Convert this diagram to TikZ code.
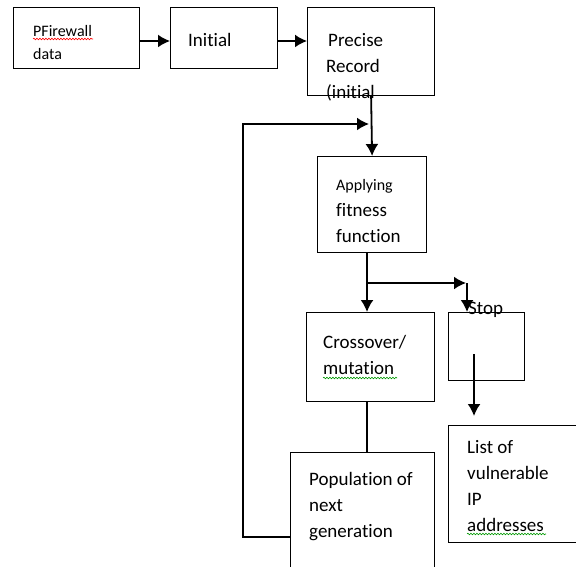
\documentclass[tikz,border=0pt]{standalone}
\usepackage{fontspec}
\setmainfont[Ligatures=NoCommon]{Carlito}
\usepackage{tikz}
\usetikzlibrary{positioning, arrows.meta, calc, decorations.pathmorphing}

\begin{document}
\begin{tikzpicture}[
    x=1pt, y=-1pt,
    box/.style={rectangle, draw, line width=1.2pt, inner sep=0pt},
    txt/.style={align=left, inner sep=0pt, anchor=north west, font=\fontsize{19}{26}\selectfont},
    smalltxt/.style={txt, font=\fontsize{16}{23}\selectfont},
    arrow/.style={-{Latex[length=12pt, width=13pt]}, line width=1.8pt},
    line/.style={line width=1.8pt},
    spell/.style={decorate, decoration={snake, amplitude=0.8pt, segment length=3pt}, line width=0.6pt}
    ]
\clip (0,0) rectangle (576,567);
\fill[white] (0,0) rectangle (576,567);

% boxes
\node[box, minimum width=126pt, minimum height=61pt, anchor=north west] (fw) at (13,7) {};
\node[box, minimum width=107pt, minimum height=61pt, anchor=north west] (init) at (170,7) {};
\node[box, minimum width=127pt, minimum height=88pt, anchor=north west] (prec) at (307,7) {};
\node[box, minimum width=109pt, minimum height=96pt, anchor=north west] (fit) at (317,156) {};
\node[box, minimum width=128pt, minimum height=89pt, anchor=north west] (cross) at (306,312) {};
\node[box, minimum width=76pt, minimum height=68pt, anchor=north west] (stop) at (448,312) {};
\node[box, minimum width=140pt, minimum height=117pt, anchor=north west] (list) at (448,425) {};
\node[box, minimum width=144pt, minimum height=130pt, anchor=north west] (pop) at (290,452) {};

% texts
\node[smalltxt] (fwtext) at (33,20) {\strut PFirewall\\data};
\node[txt] (inittext) at (188,28) {\strut Initial};
\node[txt] (prectext) at (326,28) {\strut\hspace{2pt}Precise\\Record\\(initial};
\node[txt] (fittext) at (336,172) {\strut{\fontsize{16}{26}\selectfont Applying}\\fitness\\function};
\node[txt] (crosstext) at (323,330) {\strut Crossover/\\mutation};
\node[txt] (stoptext) at (468,296) {\strut Stop};
\node[txt] (poptext) at (309,467) {\strut Population of\\next\\generation};
\node[txt] (listtext) at (467,435) {\strut List of\\vulnerable\\IP\\addresses};

% spelling marks
\draw[spell, red] (33,39) -- (93,39);
\draw[spell, green!60!black] (323,378) -- (397,378);
\draw[spell, green!60!black] (467,534) -- (546,534);

% connectors
\coordinate (loopin) at (369,124);
\coordinate (loopcorner) at (243,537);
\coordinate (split) at (367,283);
\coordinate (stopin) at (466,283);
\coordinate (stopout) at (474,354);

\draw[arrow] (fw.east |- 0,41) -- (init.west |- 0,41);
\draw[arrow] (init.east |- 0,41) -- (prec.west |- 0,41);
\draw[arrow] (prec.south) -- (fit.north);
\draw[arrow] (loopcorner -| pop.west) -- (loopcorner) |- (loopin);
\draw[arrow] (fit.south -| split) -- (cross.north -| split);
\draw[arrow] (split) -- (stopin);
\draw[arrow] ([xshift=1pt]stopin) -- ([xshift=1pt]stopin |- stop.north);
\draw[arrow, shorten >=9pt] (stopout) -- (stopout |- list.north);
\draw[line] (cross.south -| split) -- (pop.north -| split);
\end{tikzpicture}
\end{document}
